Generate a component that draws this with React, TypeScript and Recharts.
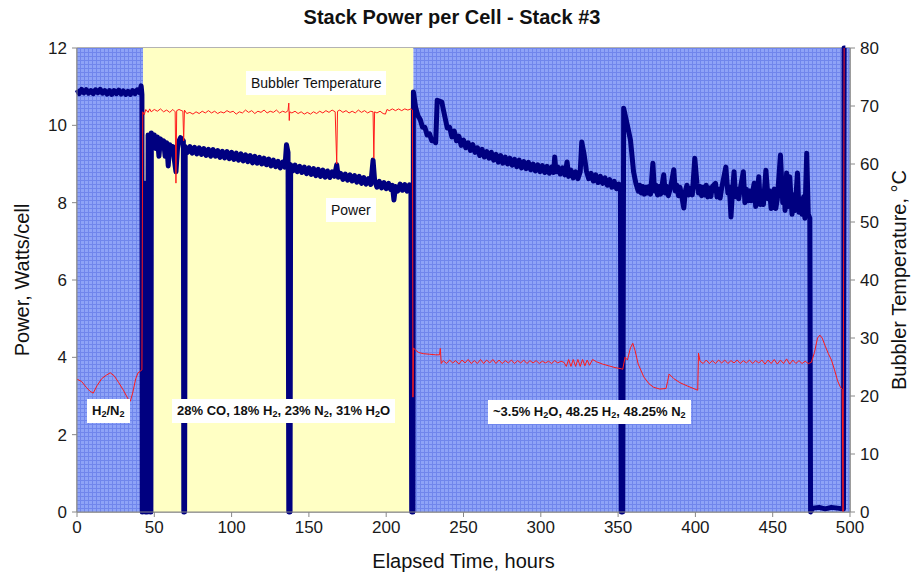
import React from 'react';
import {
  LineChart,
  Line,
  XAxis,
  YAxis,
  CartesianGrid,
  ReferenceArea,
  Label,
} from 'recharts';

const FONT = '"Liberation Sans", Arial, Helvetica, sans-serif';

// hours, W/cell
const POWER_H2N2: [number, number][] = [
  [0, 10.92], [1.5, 10.82], [3, 10.93], [4.5, 10.84], [6, 10.92], [7.5, 10.83], [9, 10.9], [10.5, 10.82],
  [12, 10.92], [13.5, 10.84], [15, 10.93], [16.5, 10.83], [18, 10.9], [19.5, 10.81], [21, 10.9], [22.5, 10.8],
  [24, 10.9], [25.5, 10.82], [27, 10.91], [28.5, 10.81], [30, 10.89], [31.5, 10.8], [33, 10.88], [34.5, 10.8],
  [36, 10.9], [37.5, 10.82], [39, 10.92], [40.5, 10.84], [41.5, 11.02],
];

const POWER_SYNGAS: [number, number][] = [
  [42, 10.8], [42.2, 0], [43.5, 0.1], [44, 8.5], [44.3, 0], [45.5, 0], [46, 9.75], [46.6, 9.5], [47.2, 9.7],
  [47.5, 0], [47.8, 0], [48.1, 9.8], [49, 9.6], [50, 9.75], [51, 9.4], [52, 9.7], [53, 9.2], [54, 9.65],
  [55, 9.5], [56, 9.6], [57, 9.2], [58, 9.55], [59, 8.95], [60, 9.5], [61, 9.35], [62, 9.45], [63, 9.1],
  [64, 8.8], [65, 9.4], [66, 9.6], [67, 9.68], [68.8, 9.6], [69.1, 0], [69.6, 0], [70, 9.45], [71.5, 9.3],
  [73, 9.45], [74.5, 9.28], [76, 9.43], [77.5, 9.26], [79, 9.42], [80.5, 9.25], [82, 9.4], [83.5, 9.22],
  [85, 9.38], [86.5, 9.2], [88, 9.37], [89.5, 9.2], [91, 9.35], [92.5, 9.17], [94, 9.33], [95.5, 9.16],
  [97, 9.32], [98.5, 9.14], [100, 9.3], [101.5, 9.12], [103, 9.28], [104.5, 9.1], [106, 9.26], [107.5, 9.08],
  [109, 9.24], [110.5, 9.06], [112, 9.22], [113.5, 9.03], [115, 9.2], [116.5, 9.02], [118, 9.17], [119.5, 9.0],
  [121, 9.15], [122.5, 8.98], [124, 9.13], [125.5, 8.95], [127, 9.1], [128.5, 8.93], [130, 9.07], [131.5, 8.9],
  [133, 9.05], [134.5, 8.92], [135.5, 9.5], [136.5, 9.3], [137, 0], [137.8, 0], [138.2, 8.98], [139.5, 8.82],
  [141, 8.97], [142.5, 8.8], [144, 8.94], [145.5, 8.78], [147, 8.92], [148.5, 8.75], [150, 8.9], [151.5, 8.73],
  [153, 8.88], [154.5, 8.7], [156, 8.86], [157.5, 8.68], [159, 8.84], [160.5, 8.66], [162, 8.82], [163.5, 8.65],
  [165, 8.8], [166.5, 8.68], [168, 8.98], [169, 8.66], [170.5, 8.76], [172, 8.6], [173.5, 8.74], [175, 8.58],
  [176.5, 8.72], [178, 8.56], [179.5, 8.7], [181, 8.53], [182.5, 8.68], [184, 8.5], [185.5, 8.65], [187, 8.48],
  [188.5, 8.62], [190, 8.47], [191.5, 9.1], [192.5, 8.58], [194, 8.4], [195.5, 8.55], [197, 8.38],
  [198.5, 8.52], [200, 8.36], [201.5, 8.5], [203, 8.34], [204, 8.45], [205, 8.07], [206, 8.42], [207.5, 8.3],
  [209, 8.48], [210.5, 8.32], [212, 8.47], [213.5, 8.3], [215, 8.46], [216, 8.38],
];

const POWER_HUMID: [number, number][] = [
  [216.5, 0], [217.3, 0], [217.6, 10.86], [219, 10.47], [220.5, 10.25], [222, 10.15], [223.5, 9.95],
  [225, 9.95], [226.5, 9.75], [228, 9.78], [229.5, 9.6], [231, 9.62], [232, 9.55], [233, 10.65], [236, 10.6],
  [237, 10.4], [239.5, 9.93], [241, 9.95], [242.5, 9.7], [244, 9.85], [245.5, 9.6], [247, 9.72], [248.5, 9.48],
  [250, 9.62], [251.5, 9.42], [253, 9.55], [254.5, 9.35], [256, 9.5], [257.5, 9.3], [259, 9.42], [260.5, 9.22],
  [262, 9.38], [263.5, 9.18], [265, 9.32], [266.5, 9.15], [268, 9.3], [269.5, 9.1], [271, 9.25], [272.5, 9.05],
  [274, 9.22], [275.5, 9.02], [277, 9.18], [278.5, 9.0], [280, 9.15], [281.5, 8.97], [283, 9.12], [284.5, 8.93],
  [286, 9.1], [287.5, 8.9], [289, 9.06], [290.5, 8.88], [292, 9.04], [293.5, 8.85], [295, 9.0], [296.5, 8.82],
  [298, 8.98], [299.5, 8.8], [301, 8.96], [302.5, 8.78], [304, 8.94], [305.5, 8.76], [307, 8.92], [308.3, 8.78],
  [309, 9.18], [309.8, 8.8], [311, 8.92], [312.5, 8.74], [314, 8.9], [315.5, 8.72], [317, 9.05], [318, 8.68],
  [319.5, 8.84], [321, 8.64], [322.5, 8.8], [324, 8.62], [325.5, 8.8], [326.5, 9.57], [328, 9.25],
  [329.5, 8.82], [331, 8.62], [332.5, 8.76], [334, 8.56], [335.5, 8.72], [337, 8.52], [338.5, 8.68],
  [340, 8.5], [341.5, 8.64], [343, 8.45], [344.5, 8.6], [346, 8.4], [347.5, 8.55], [349, 8.36], [350.5, 8.48],
  [351.5, 8.3], [352, 0], [353, 0], [353.6, 10.44], [356, 10.0], [358, 9.62], [360, 8.8], [361.5, 8.5],
  [363, 8.3], [364, 8.45], [365, 8.25], [366, 8.42], [367, 8.22], [368, 8.4], [369, 8.25], [370, 8.42],
  [371, 8.22], [372.5, 9.02], [373.5, 8.3], [374.5, 8.45], [375.5, 8.2], [376.5, 8.42], [377.5, 8.22],
  [379.5, 8.72], [380.5, 8.25], [381.5, 8.42], [382.5, 8.18], [384, 8.4], [386, 8.85], [387, 8.3],
  [388, 8.45], [389, 8.18], [390, 8.4], [391, 8.2], [392.5, 7.86], [393.5, 8.3], [394.5, 8.45], [395.5, 8.2],
  [397, 8.38], [398, 8.2], [399.6, 9.15], [401, 8.5], [402, 8.25], [403, 8.42], [404, 8.18], [405, 8.4],
  [406, 8.2], [407, 8.45], [408, 8.15], [409, 8.38], [410, 8.16], [411, 8.42], [413, 8.5], [414, 8.15],
  [415, 8.35], [416, 8.12], [417, 8.38], [419.7, 8.92], [421, 8.25], [422, 8.4], [423, 7.63], [424, 8.3],
  [425, 8.8], [426, 8.15], [427, 8.35], [428, 8.1], [429, 8.35], [431, 8.8], [432, 8.0], [433, 8.35],
  [434, 8.05], [435, 8.3], [436, 8.05], [438, 8.5], [439, 7.9], [440, 8.3], [441, 8.67], [442, 7.95],
  [443, 8.25], [444, 7.95], [445.6, 8.84], [447, 8.1], [448, 8.3], [449, 7.85], [450, 8.2], [451, 8.35],
  [452, 7.85], [453, 8.1], [455, 9.23], [456.5, 8.0], [457.5, 8.3], [458, 7.8], [459, 8.77], [460, 7.9],
  [461, 8.67], [462.5, 7.7], [463.5, 8.2], [464.5, 7.8], [466, 8.77], [467, 7.75], [468, 8.1], [469, 7.7],
  [470, 8.15], [470.8, 7.6], [472, 9.28], [473, 7.7], [474, 7.6],
];

const POWER_SHUTDOWN: [number, number][] = [
  [474.5, 0], [476, 0.1], [480, 0.12], [484, 0.08], [488, 0.12], [492, 0.1], [495.8, 0.08], [496.2, 12],
  [497, 12],
];

// hours, deg C
const TEMP_H2N2: [number, number][] = [
  [0, 22.9], [3, 22.5], [6, 21.5], [8.5, 20.8], [10.5, 20.5], [13, 21.8], [16, 23.0], [19, 23.6],
  [21.5, 24.0], [24, 23.5], [27, 22.3], [30, 21.0], [33, 19.5], [34.5, 19.1], [36, 20.5], [38, 23],
  [39.5, 24], [42, 24.5],
];

const TEMP_SYNGAS: [number, number][] = [
  [42.5, 69], [43.5, 68.5], [44.5, 69.4], [46, 68.9], [47, 69.5], [48, 69.0], [50, 69.4], [52, 69.1],
  [54, 69.5], [56, 69.0], [58, 69.3], [60, 68.9], [62, 69.4], [63.5, 69.0], [64, 56.7], [64.5, 69.2],
  [66, 69.4], [68.5, 69.1], [69, 64], [69.5, 69.3], [71, 68.7], [73, 68.9], [75, 68.6], [77, 69.0],
  [79, 68.7], [81, 69.1], [83, 68.8], [85, 69.2], [87, 68.8], [89, 69.1], [91, 68.7], [93, 69.0],
  [95, 68.8], [97, 69.2], [99, 68.9], [101, 69.1], [103, 68.6], [105, 69.0], [107, 68.8], [109, 69.3],
  [111, 68.9], [113, 69.2], [115, 68.7], [117, 69.1], [119, 68.9], [121, 69.3], [123, 68.8], [125, 69.1],
  [127, 68.9], [129, 69.3], [131, 68.8], [133, 69.1], [135, 68.9], [136.5, 69.2], [137, 70.5],
  [137.3, 67.5], [137.6, 69], [139, 68.8], [141, 69.1], [143, 68.7], [145, 69.0], [147, 68.6],
  [149, 68.9], [151, 68.6], [153, 69.0], [155, 68.7], [157, 69.1], [159, 68.8], [161, 69.2], [163, 68.9],
  [165, 69.3], [167, 69.0], [168, 60], [168.5, 69.1], [170, 69.3], [172, 68.9], [174, 69.2], [176, 68.8],
  [178, 69.1], [180, 68.8], [182, 69.3], [184, 68.9], [186, 69.2], [188, 68.8], [190, 69.1],
  [191.5, 69.0], [192, 61], [192.5, 69.0], [194, 68.8], [196, 69.1], [198, 68.7], [199.5, 68.6],
  [200.5, 69.4], [202, 69.2], [204, 69.5], [206, 69.2], [208, 69.5], [210, 69.2], [212, 69.5],
  [214, 69.3], [216, 69.5], [217, 69.3],
];

const TEMP_HUMID: [number, number][] = [
  [217.3, 19.8], [217.6, 28.3], [219, 27.9], [221, 27.5], [224, 27.3], [228, 27.2], [232, 27.1],
  [234.5, 27.1], [235, 28.2], [235.6, 25.6], [237, 26.1], [239, 25.6], [241, 26.2], [243, 25.7],
  [245, 26.1], [247, 25.5], [249, 26.2], [251, 25.7], [253, 26.3], [255, 25.6], [257, 26.1], [259, 25.6],
  [261, 26.3], [263, 25.6], [265, 26.2], [267, 25.7], [269, 26.3], [271, 25.6], [273, 26.2], [275, 25.6],
  [277, 26.1], [279, 25.7], [281, 26.2], [283, 25.6], [285, 26.1], [287, 25.7], [289, 26.2], [291, 25.6],
  [293, 26.1], [295, 25.7], [297, 26.1], [299, 25.6], [301, 26.0], [303, 25.7], [305, 26.0], [307, 25.6],
  [309, 26.1], [311, 25.7], [313, 26.0], [315, 25.8], [316.5, 25.1], [318, 26.3], [319.5, 25.1],
  [321, 26.3], [322.5, 25.1], [324, 26.3], [325.5, 25.1], [327, 26.3], [328.5, 25.2], [330, 26.2],
  [331.5, 25.3], [333.5, 26.3], [336, 25.9], [340, 25.5], [344, 25.2], [348, 24.9], [352, 24.7],
  [353, 24.6], [354.5, 26.7], [356, 26.2], [358, 28.3], [359.5, 29.1], [361, 27.8], [363, 25.5],
  [366.6, 23.3], [370, 22.1], [373, 21.5], [377, 21.2], [381, 21.3], [382, 22.5], [383, 23.8], [386, 23.0],
  [390, 22.3], [395, 21.7], [401.5, 21.0], [402, 27.4], [403, 26.0], [405, 25.6], [407, 26.2], [409, 25.6],
  [411, 26.1], [413, 25.6], [415, 26.2], [417, 25.7], [419, 26.2], [421, 25.6], [423, 26.1], [425, 25.7],
  [427, 26.2], [429, 25.6], [431, 26.1], [433, 25.7], [435, 26.2], [437, 25.6], [439, 26.1], [441, 25.7],
  [443, 26.2], [445, 25.5], [447, 26.2], [449, 25.6], [451, 26.3], [453, 25.5], [455, 26.2], [457, 25.6],
  [459, 26.4], [461, 25.5], [463, 26.2], [465, 25.6], [467, 26.1], [469, 25.6], [471, 26.0], [473, 25.6],
  [475, 25.8], [477, 27.5], [479, 30.0], [480.5, 30.5], [482, 30.0], [484, 28.6], [486, 27.3],
  [488, 26.2], [490, 24.5], [492, 22.6], [494, 21.4], [495, 21.2], [495.5, 0], [496.2, 80],
];

// gas regimes shading
const REGIMES = [
  { from: 0, to: 42.7, fill: 'url(#bluePat)' },
  { from: 42.7, to: 217.6, fill: '#ffffc4' },
  { from: 217.6, to: 500, fill: 'url(#bluePat)' },
];

const X_TICKS = [0, 50, 100, 150, 200, 250, 300, 350, 400, 450, 500];
const POWER_TICKS = [0, 2, 4, 6, 8, 10, 12];
const TEMP_TICKS = [0, 10, 20, 30, 40, 50, 60, 70, 80];

const powerData = [...POWER_H2N2, ...POWER_SYNGAS, ...POWER_HUMID, ...POWER_SHUTDOWN].map(([h, w]) => ({ h, w }));
const tempData = [...TEMP_H2N2, ...TEMP_SYNGAS, ...TEMP_HUMID].map(([h, t]) => ({ h, t }));

const tickStyle = { fontSize: 17, fill: '#1a1a1a', fontFamily: FONT };
const titleStyle = { fontSize: 20, fill: '#111', fontFamily: FONT, textAnchor: 'middle' as const };

const boxStyle: React.CSSProperties = {
  position: 'absolute',
  background: '#fff',
  fontFamily: FONT,
  color: '#111',
  padding: '3px 5px',
  whiteSpace: 'nowrap',
  lineHeight: '18px',
  pointerEvents: 'none',
};

const Sub = ({ children }: { children: React.ReactNode }) => (
  <sub style={{ fontSize: '0.7em', verticalAlign: '-0.25em', lineHeight: 0 }}>{children}</sub>
);

export default function App() {
  return (
    <div style={{ position: 'absolute', left: 0, top: 0, width: 911, height: 574, background: '#fff' }}>
      <svg width={0} height={0} style={{ position: 'absolute' }}>
        <defs>
          <pattern id="bluePat" width={4} height={4} patternUnits="userSpaceOnUse">
            <rect width={4} height={4} fill="#8ea3f7" />
            <path d="M0 0.5H4M0.5 0V4" stroke="#7086ec" strokeWidth={1} />
          </pattern>
        </defs>
      </svg>

      <div
        style={{
          position: 'absolute',
          left: 0,
          width: 904,
          top: 6,
          textAlign: 'center',
          fontFamily: FONT,
          fontWeight: 'bold',
          fontSize: 20,
          color: '#111',
        }}
      >
        Stack Power per Cell - Stack #3
      </div>

      <LineChart width={911} height={574} margin={{ top: 48, right: 0, bottom: 0, left: 0 }}>
        {REGIMES.map((r, i) => (
          <ReferenceArea
            key={i}
            yAxisId="left"
            x1={r.from}
            x2={r.to}
            y1={0}
            y2={12}
            fill={r.fill}
            fillOpacity={1}
            stroke="none"
          />
        ))}
        <CartesianGrid yAxisId="left" stroke="#666" strokeWidth={1} />

        <XAxis
          type="number"
          dataKey="h"
          domain={[0, 500]}
          ticks={X_TICKS}
          height={62}
          tick={tickStyle}
          tickSize={5}
          tickMargin={4}
          stroke="#888"
          allowDuplicatedCategory={false}
        >
          <Label value="Elapsed Time, hours" position="insideBottom" offset={6} style={titleStyle} />
        </XAxis>
        <YAxis
          yAxisId="left"
          type="number"
          domain={[0, 12]}
          ticks={POWER_TICKS}
          width={77}
          tick={tickStyle}
          tickSize={5}
          tickMargin={5}
          stroke="#888"
        >
          <Label value="Power, Watts/cell" angle={-90} position="insideLeft" offset={22} style={titleStyle} />
        </YAxis>
        <YAxis
          yAxisId="right"
          orientation="right"
          type="number"
          domain={[0, 80]}
          ticks={TEMP_TICKS}
          width={61}
          tick={tickStyle}
          tickSize={5}
          tickMargin={5}
          stroke="#888"
        >
          <Label value="Bubbler Temperature, °C" angle={-90} position="insideRight" offset={12} style={titleStyle} />
        </YAxis>

        <Line
          yAxisId="left"
          data={powerData}
          dataKey="w"
          type="linear"
          stroke="#000080"
          strokeWidth={5}
          dot={false}
          isAnimationActive={false}
          strokeLinejoin="round"
        />
        <Line
          yAxisId="right"
          data={tempData}
          dataKey="t"
          type="linear"
          stroke="#ff1a1a"
          strokeWidth={1}
          dot={false}
          isAnimationActive={false}
        />
      </LineChart>

      <div style={{ ...boxStyle, left: 246, top: 71, fontSize: 14 }}>Bubbler Temperature</div>
      <div style={{ ...boxStyle, left: 326, top: 198, fontSize: 14 }}>Power</div>
      <div style={{ ...boxStyle, left: 87, top: 399, fontSize: 13, fontWeight: 'bold' }}>
        H<Sub>2</Sub>/N<Sub>2</Sub>
      </div>
      <div style={{ ...boxStyle, left: 172, top: 399, fontSize: 13, fontWeight: 'bold' }}>
        28% CO, 18% H<Sub>2</Sub>, 23% N<Sub>2</Sub>, 31% H<Sub>2</Sub>O
      </div>
      <div style={{ ...boxStyle, left: 488, top: 400, fontSize: 13, fontWeight: 'bold' }}>
        ~3.5% H<Sub>2</Sub>O, 48.25 H<Sub>2</Sub>, 48.25% N<Sub>2</Sub>
      </div>
    </div>
  );
}
